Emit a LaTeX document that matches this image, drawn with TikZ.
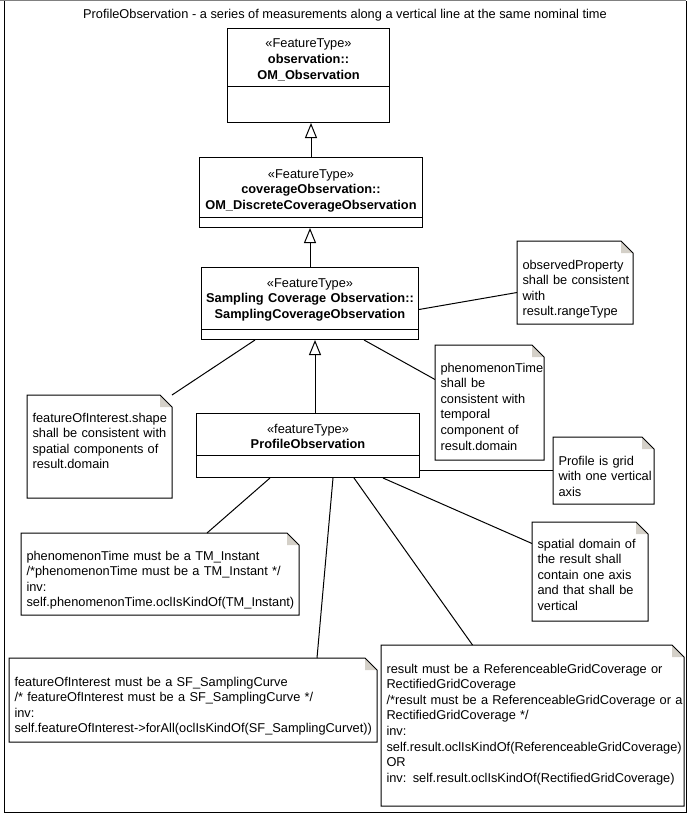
\documentclass[tikz,border=0pt]{standalone}
\usepackage{fontspec}
\setmainfont{Liberation Sans}
\usetikzlibrary{arrows.meta}
\definecolor{fold}{RGB}{212,208,200}
\newcommand{\umltext}[2][l]{\begin{tabular}[t]{@{}#1@{}}#2\end{tabular}}

\begin{document}
\begin{tikzpicture}[x=1pt, y=-1pt, line width=1pt,
  font=\fontsize{12.8}{15.6}\selectfont,
  cls/.style n args={3}{draw, anchor=north west, align=center, inner xsep=2pt,
    inner ysep=0pt, text width=#1pt, text height=#2pt, text depth=#3pt},
  note/.style n args={3}{anchor=north west, align=left, inner xsep=5pt,
    inner ysep=0pt, text width=#1pt, text height=#2pt, text depth=#3pt},
  gen/.style={-{Triangle[open, length=15pt, width=12pt]}}]
  \useasboundingbox (0,0) rectangle (694,816);
  \draw[gray] (0,1) -- (686,1);
  \draw (4,1) -- (4,812) -- (686,812) -- (686,1);
  \node (title) at (345,15) {ProfileObservation - a series of measurements along a vertical line at the same nominal time};

  % classes
  \node[cls={158}{19.5}{74.5}] (om) at (227,28)
    {\umltext[c]{«FeatureType»\\\textbf{observation::}\\\textbf{OM\_Observation}}};
  \node[cls={219}{20.5}{49.5}] (discrete) at (199,157)
    {\umltext[c]{«FeatureType»\\\textbf{coverageObservation::}\\\textbf{OM\_DiscreteCoverageObservation}}};
  \node[cls={213}{19.5}{52.5}] (sampling) at (201,267)
    {\umltext[c]{«FeatureType»\\\textbf{Sampling Coverage Observation::}\\\textbf{SamplingCoverageObservation}}};
  \node[cls={219}{19.5}{44.5}] (profile) at (196,413)
    {\umltext[c]{«featureType»\\\textbf{ProfileObservation}}};
  \foreach \c/\d in {om/58, discrete/60, sampling/62, profile/42}
    \draw ([yshift=-\d]\c.north west) -- ([yshift=-\d]\c.north east);

  \draw[gen] (discrete.north) -- (discrete.north |- om.south);
  \draw[gen] (sampling.north) -- (sampling.north |- discrete.south);
  \draw[gen] ([xshift=7]profile.north) -- ([xshift=7]profile.north |- sampling.south);

  % notes
  \node[note={105}{27.5}{54.5}] (propNote) at (517,241)
    {\umltext{observedProperty\\shall be consistent\\with\\result.rangeType}};
  \node[note={98}{26.5}{87.5}] (timeNote) at (435,345)
    {\umltext{phenomenonTime\\shall be\\consistent with\\temporal\\component of\\result.domain}};
  \node[note={134}{26.5}{75.5}] (shapeNote) at (27,395)
    {\umltext{featureOfInterest.shape\\shall be consistent with\\spatial components of\\result.domain}};
  \node[note={90}{27.5}{38.5}] (gridNote) at (553,437)
    {\umltext{Profile is grid\\with one vertical\\axis}};
  \node[note={105}{25.5}{72.5}] (axisNote) at (532,522)
    {\umltext{spatial domain of\\the result shall\\contain one axis\\and that shall be\\vertical}};
  \node[note={267}{26.5}{54.5}] (instantNote) at (21,533)
    {\umltext{phenomenonTime must be a TM\_Instant\\/*phenomenonTime must be a TM\_Instant */\\inv:\\self.phenomenonTime.oclIsKindOf(TM\_Instant)}};
  \node[note={357}{27.5}{55.5}] (curveNote) at (9,658)
    {\umltext{featureOfInterest must be a SF\_SamplingCurve\\/* featureOfInterest must be a SF\_SamplingCurve */\\inv:\\self.featureOfInterest->forAll(oclIsKindOf(SF\_SamplingCurvet))}};
  \node[note={292}{27.5}{132.5}] (resultNote) at (381,645)
    {\umltext{result must be a ReferenceableGridCoverage or\\RectifiedGridCoverage\\/*result must be a ReferenceableGridCoverage or a\\RectifiedGridCoverage */\\inv:\\self.result.oclIsKindOf(ReferenceableGridCoverage)\\OR\\inv: self.result.oclIsKindOf(RectifiedGridCoverage)}};
  \foreach \n in {propNote, timeNote, shapeNote, gridNote, axisNote, instantNote, curveNote, resultNote} {
    \fill[fold] ([xshift=-12]\n.north east) -- ([xshift=-12, yshift=-12]\n.north east) -- ([yshift=-12]\n.north east) -- cycle;
    \draw (\n.north west) -- ([xshift=-12]\n.north east) -- ([yshift=-12]\n.north east) -- (\n.south east) -- (\n.south west) -- cycle;
  }

  % note links
  \draw ([yshift=-6]sampling.east) -- ([yshift=-10]propNote.west);
  \draw ([xshift=54]sampling.south) -- ([yshift=23]timeNote.west);
  \draw ([xshift=-55]sampling.south) -- (shapeNote.north east);
  \draw (gridNote.west -| profile.east) -- (gridNote.west);
  \draw ([xshift=75]profile.south) -- ([yshift=28]axisNote.west);
  \draw ([xshift=-38]profile.south) -- ([xshift=47]instantNote.north);
  \draw ([xshift=25]profile.south) -- ([xshift=124]curveNote.north);
  \draw ([xshift=46]profile.south) -- ([xshift=-60]resultNote.north);
\end{tikzpicture}
\end{document}
